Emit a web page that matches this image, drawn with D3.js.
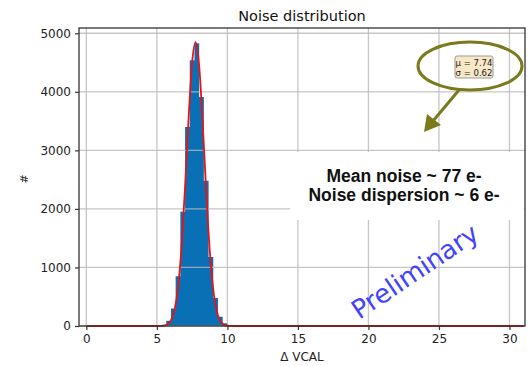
<!DOCTYPE html>
<html>
<head>
<meta charset="utf-8">
<script src="https://cdn.jsdelivr.net/npm/d3@7"></script>
<style>
  body { margin: 0; background: #fff; }
  svg { display: block; font-family: "DejaVu Sans", sans-serif; }
</style>
</head>
<body>
<svg id="chart"></svg>
<script>
// histogram bins of width 1/3, left edges
const binEdges = [5.333, 5.667, 6.0, 6.333, 6.667, 7.0, 7.333, 7.667, 8.0, 8.333, 8.667, 9.0, 9.333, 9.667, 10.0, 10.333];
const binCounts = [20, 90, 300, 850, 1950, 3400, 4540, 4830, 3910, 2480, 1180, 480, 160, 45, 15, 5];
const BIN_W = 1 / 3;

// gaussian fit, sampled
const fitX = [0, 5.0, 5.25, 5.5, 5.75, 6.0, 6.25, 6.5, 6.75, 7.0, 7.25, 7.5, 7.75, 8.0, 8.25, 8.5, 8.75, 9.0, 9.25, 9.5, 9.75, 10.0, 10.25, 10.5, 31];
const fitY = [0, 0, 2, 7, 28, 95, 270, 656, 1355, 2379, 3550, 4500, 4850, 4442, 3458, 2290, 1286, 615, 250, 86, 25, 6, 1, 0, 0];

const xTicks = [0, 5, 10, 15, 20, 25, 30];
const yTicks = [0, 1000, 2000, 3000, 4000, 5000];
const fitLabel = ["μ = 7.74", "σ = 0.62"];
const noteLines = ["Mean noise ~ 77 e-", "Noise dispersion ~ 6 e-"];

const W = 528, H = 366;
const M = { top: 28, right: 3, bottom: 40, left: 79 };

const svg = d3.select("#chart").attr("width", W).attr("height", H);

const x = d3.scaleLinear().domain([-0.52, 31.1]).range([M.left, W - M.right]);
const y = d3.scaleLinear().domain([0, 5090]).range([H - M.bottom, M.top]);

// bars as one stepped area (no seams between bins)
const steps = binEdges.map((d, i) => [d, binCounts[i]]);
steps.push([binEdges[binEdges.length - 1] + BIN_W, 0]);
const area = d3.area()
  .x((d) => x(d[0]))
  .y0(y(0))
  .y1((d) => y(d[1]))
  .curve(d3.curveStepAfter);
svg.append("path").datum(steps).attr("d", area).attr("fill", "#0a70b6");

// grid (drawn over bars)
const grid = svg.append("g").attr("stroke", "#b8b8b8").attr("stroke-opacity", 0.8).attr("stroke-width", 1.3);
grid.selectAll(".gx").data(xTicks).enter().append("line")
  .attr("x1", (d) => x(d)).attr("x2", (d) => x(d))
  .attr("y1", M.top).attr("y2", H - M.bottom);
grid.selectAll(".gy").data(yTicks).enter().append("line")
  .attr("x1", M.left).attr("x2", W - M.right)
  .attr("y1", (d) => y(d)).attr("y2", (d) => y(d));

// fit curve
const line = d3.line().x((d, i) => x(fitX[i])).y((d) => y(d)).curve(d3.curveMonotoneX);
svg.append("path")
  .datum(fitY)
  .attr("d", line)
  .attr("fill", "none")
  .attr("stroke", "#ee1111")
  .attr("stroke-width", 1.8);

// axes
const xa = svg.append("g")
  .attr("transform", "translate(0," + (H - M.bottom) + ")")
  .call(d3.axisBottom(x).tickValues(xTicks).tickSize(4).tickPadding(4));
const ya = svg.append("g")
  .attr("transform", "translate(" + M.left + ",0)")
  .call(d3.axisLeft(y).tickValues(yTicks).tickFormat(d3.format("d")).tickSize(4).tickPadding(4));
[xa, ya].forEach((a) => {
  a.select(".domain").remove();
  a.selectAll("line").attr("stroke", "#333").attr("stroke-width", 1.2);
  a.selectAll("text").attr("fill", "#222").style("font-size", "12px").style("font-family", "DejaVu Sans");
});

// frame
svg.append("rect")
  .attr("x", M.left).attr("y", M.top)
  .attr("width", W - M.right - M.left).attr("height", H - M.bottom - M.top)
  .attr("fill", "none").attr("stroke", "#333").attr("stroke-width", 1.3);

// titles
svg.append("text").attr("x", (M.left + W - M.right) / 2).attr("y", 21)
  .attr("text-anchor", "middle").style("font-size", "14.5px").attr("fill", "#111")
  .text("Noise distribution");
svg.append("text").attr("x", (M.left + W - M.right) / 2).attr("y", 361)
  .attr("text-anchor", "middle").style("font-size", "12px").attr("fill", "#222")
  .text("Δ VCAL");
svg.append("text").attr("transform", "translate(28,179) rotate(-90)")
  .attr("text-anchor", "middle").style("font-size", "11px").attr("fill", "#222")
  .text("#");

// white note box
svg.append("rect").attr("x", 290).attr("y", 152).attr("width", 234).attr("height", 68).attr("fill", "#fff");
svg.append("g").selectAll("text").data(noteLines).enter().append("text")
  .attr("x", 404).attr("y", (d, i) => 182 + i * 18.5)
  .attr("text-anchor", "middle")
  .style("font-family", "Liberation Sans, Arial, sans-serif")
  .style("font-weight", "bold").style("font-size", "17.5px").attr("fill", "#111")
  .text((d) => d);

// fit parameter box
svg.append("rect").attr("x", 455).attr("y", 56).attr("width", 38).attr("height", 22).attr("rx", 2)
  .attr("fill", "#f8e8c8").attr("stroke", "#999").attr("stroke-width", 1);
svg.append("g").selectAll("text").data(fitLabel).enter().append("text")
  .attr("x", 474).attr("y", (d, i) => 66 + i * 9.5)
  .attr("text-anchor", "middle").style("font-size", "8.5px").attr("fill", "#222")
  .text((d) => d);

// olive ellipse + arrow
const olive = "#7a7a1c";
svg.append("ellipse").attr("cx", 470).attr("cy", 66).attr("rx", 52).attr("ry", 24)
  .attr("fill", "none").attr("stroke", olive).attr("stroke-width", 3);
svg.append("line").attr("x1", 459).attr("y1", 90).attr("x2", 433).attr("y2", 121)
  .attr("stroke", olive).attr("stroke-width", 3);
svg.append("path").attr("d", "M424,132 L427,114 L441,125 Z").attr("fill", olive);

// watermark
svg.append("text").attr("transform", "translate(420,279) rotate(-34)")
  .attr("text-anchor", "middle").style("font-size", "26px").attr("fill", "#4242ff")
  .text("Preliminary");
</script>
</body>
</html>
